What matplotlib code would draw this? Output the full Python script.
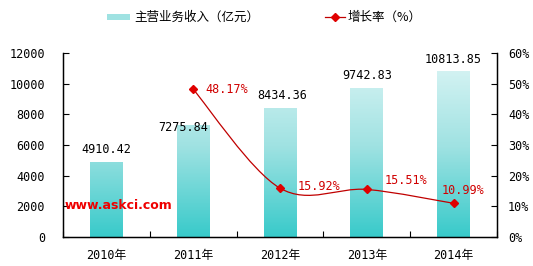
import matplotlib
matplotlib.use("Agg")
import matplotlib.pyplot as plt
import numpy as np
from matplotlib.colors import LinearSegmentedColormap
from matplotlib.path import Path
from matplotlib.patches import PathPatch, Rectangle
from matplotlib.lines import Line2D

plt.rcParams['font.family'] = ['DejaVu Sans Mono', 'Noto Sans CJK SC']

years = ['2010年', '2011年', '2012年', '2013年', '2014年']
revenue = [4910.42, 7275.84, 8434.36, 9742.83, 10813.85]
growth_years_idx = [1, 2, 3, 4]
growth = [48.17, 15.92, 15.51, 10.99]
left_ticks = [0, 2000, 4000, 6000, 8000, 10000, 12000]
right_ticks = [0, 10, 20, 30, 40, 50, 60]

fig = plt.figure(figsize=(5.33, 2.66), dpi=100)
ax = fig.add_axes([63/533, 29/266, 434/533, 184/266])
ax2 = ax.twinx()

cmap = LinearSegmentedColormap.from_list('g', ['#38caca', '#9fe2e2', '#dcf5f5'])
x = np.arange(len(years))
bw = 0.38
bars = ax.bar(x, revenue, width=bw, color='none', edgecolor='none', zorder=2)
grad = np.linspace(0, 1, 256).reshape(-1, 1)
for b in bars:
    x0 = b.get_x()
    w = b.get_width()
    im = ax.imshow(grad, cmap=cmap, origin='lower', aspect='auto',
                   extent=[x0, x0 + w, 0, 12000 * 0.98], zorder=2)
    im.set_clip_path(b)

fs = 8.5
ax.set_xlim(-0.5, 4.5)
ax.set_ylim(0, 12000)
ax.set_yticks(left_ticks)
ax.set_yticklabels([str(v) for v in left_ticks], fontsize=fs)
ax.set_xticks(np.arange(-0.5, 5, 1), minor=False)
ax.set_xticklabels([])
ax.set_xticks(x, minor=True)
ax.set_xticklabels(years, minor=True, fontsize=fs)
ax.tick_params(axis='x', which='minor', length=0, pad=9)
ax.tick_params(axis='x', which='major', direction='in', length=4)
ax.tick_params(axis='y', direction='in', length=4, pad=13)
ax.spines['top'].set_visible(False)
for s in ['left', 'bottom']:
    ax.spines[s].set_linewidth(1.0)

ax2.set_ylim(0, 60)
ax2.set_yticks(right_ticks)
ax2.set_yticklabels([f'{v}%' for v in right_ticks], fontsize=fs)
ax2.tick_params(axis='y', direction='in', length=4, pad=8)
ax2.spines['top'].set_visible(False)
ax2.spines['right'].set_linewidth(1.0)

# value labels
lab_off = [12, -2.5, 12.5, 12, 12]
lab_dx = [0, -10, 2, 0, 0]
for i, v in enumerate(revenue):
    ax.annotate(f'{v:.2f}', (x[i], v), xytext=(lab_dx[i], lab_off[i]),
                textcoords='offset pixels', ha='center', va='center',
                fontsize=fs, color='black', zorder=5)

# smooth growth line (Catmull-Rom as cubic Bezier)
px = np.array([x[i] for i in growth_years_idx], dtype=float)
py = np.array(growth, dtype=float)
verts = [(px[0], py[0])]
codes = [Path.MOVETO]
n = len(px)
for i in range(n - 1):
    p0 = (px[max(i - 1, 0)], py[max(i - 1, 0)])
    p1 = (px[i], py[i])
    p2 = (px[i + 1], py[i + 1])
    p3 = (px[min(i + 2, n - 1)], py[min(i + 2, n - 1)])
    c1 = (p1[0] + (p2[0] - p0[0]) / 6, p1[1] + (p2[1] - p0[1]) / 6)
    c2 = (p2[0] - (p3[0] - p1[0]) / 6, p2[1] - (p3[1] - p1[1]) / 6)
    verts += [c1, c2, p2]
    codes += [Path.CURVE4] * 3
ax2.add_patch(PathPatch(Path(verts, codes), facecolor='none',
                        edgecolor='#c00000', lw=0.9, zorder=4))
ax2.plot(px, py, linestyle='none', marker='D', markersize=4,
         color='#e00000', zorder=5)
g_dx = [12, 18, 18, -12]
g_dy = [0, 2, 9, 13]
for i in range(n):
    ax2.annotate(f'{growth[i]:.2f}%', (px[i], py[i]), xytext=(g_dx[i], g_dy[i]),
                 textcoords='offset pixels', ha='left', va='center',
                 fontsize=fs, color='#d00000', zorder=6)

fig.text(65/533, 1 - 205.5/266, 'www.askci.com', color='#ee0000',
         fontsize=9, fontweight='bold', va='center', ha='left',
         family='DejaVu Sans')

# legend
lx = 107 / 533
ly = 1 - 17 / 266
fig.patches.append(Rectangle((lx, ly - 3 / 266), 23 / 533, 6 / 266,
                             transform=fig.transFigure, facecolor='#9fe2e2',
                             edgecolor='none'))
fig.text(134 / 533, ly, '主营业务收入（亿元）', fontsize=9, va='center', ha='left',
         family=['Noto Sans CJK SC', 'DejaVu Sans'])
fig.lines.append(Line2D([325 / 533, 345 / 533], [ly, ly], transform=fig.transFigure,
                        color='#c00000', lw=0.9))
fig.lines.append(Line2D([335 / 533], [ly], transform=fig.transFigure,
                        color='#e00000', marker='D', markersize=4, linestyle='none'))
fig.text(348 / 533, ly, '增长率（%）', fontsize=9, va='center', ha='left',
         family=['Noto Sans CJK SC', 'DejaVu Sans'])

fig.savefig('out.png', dpi=100)
